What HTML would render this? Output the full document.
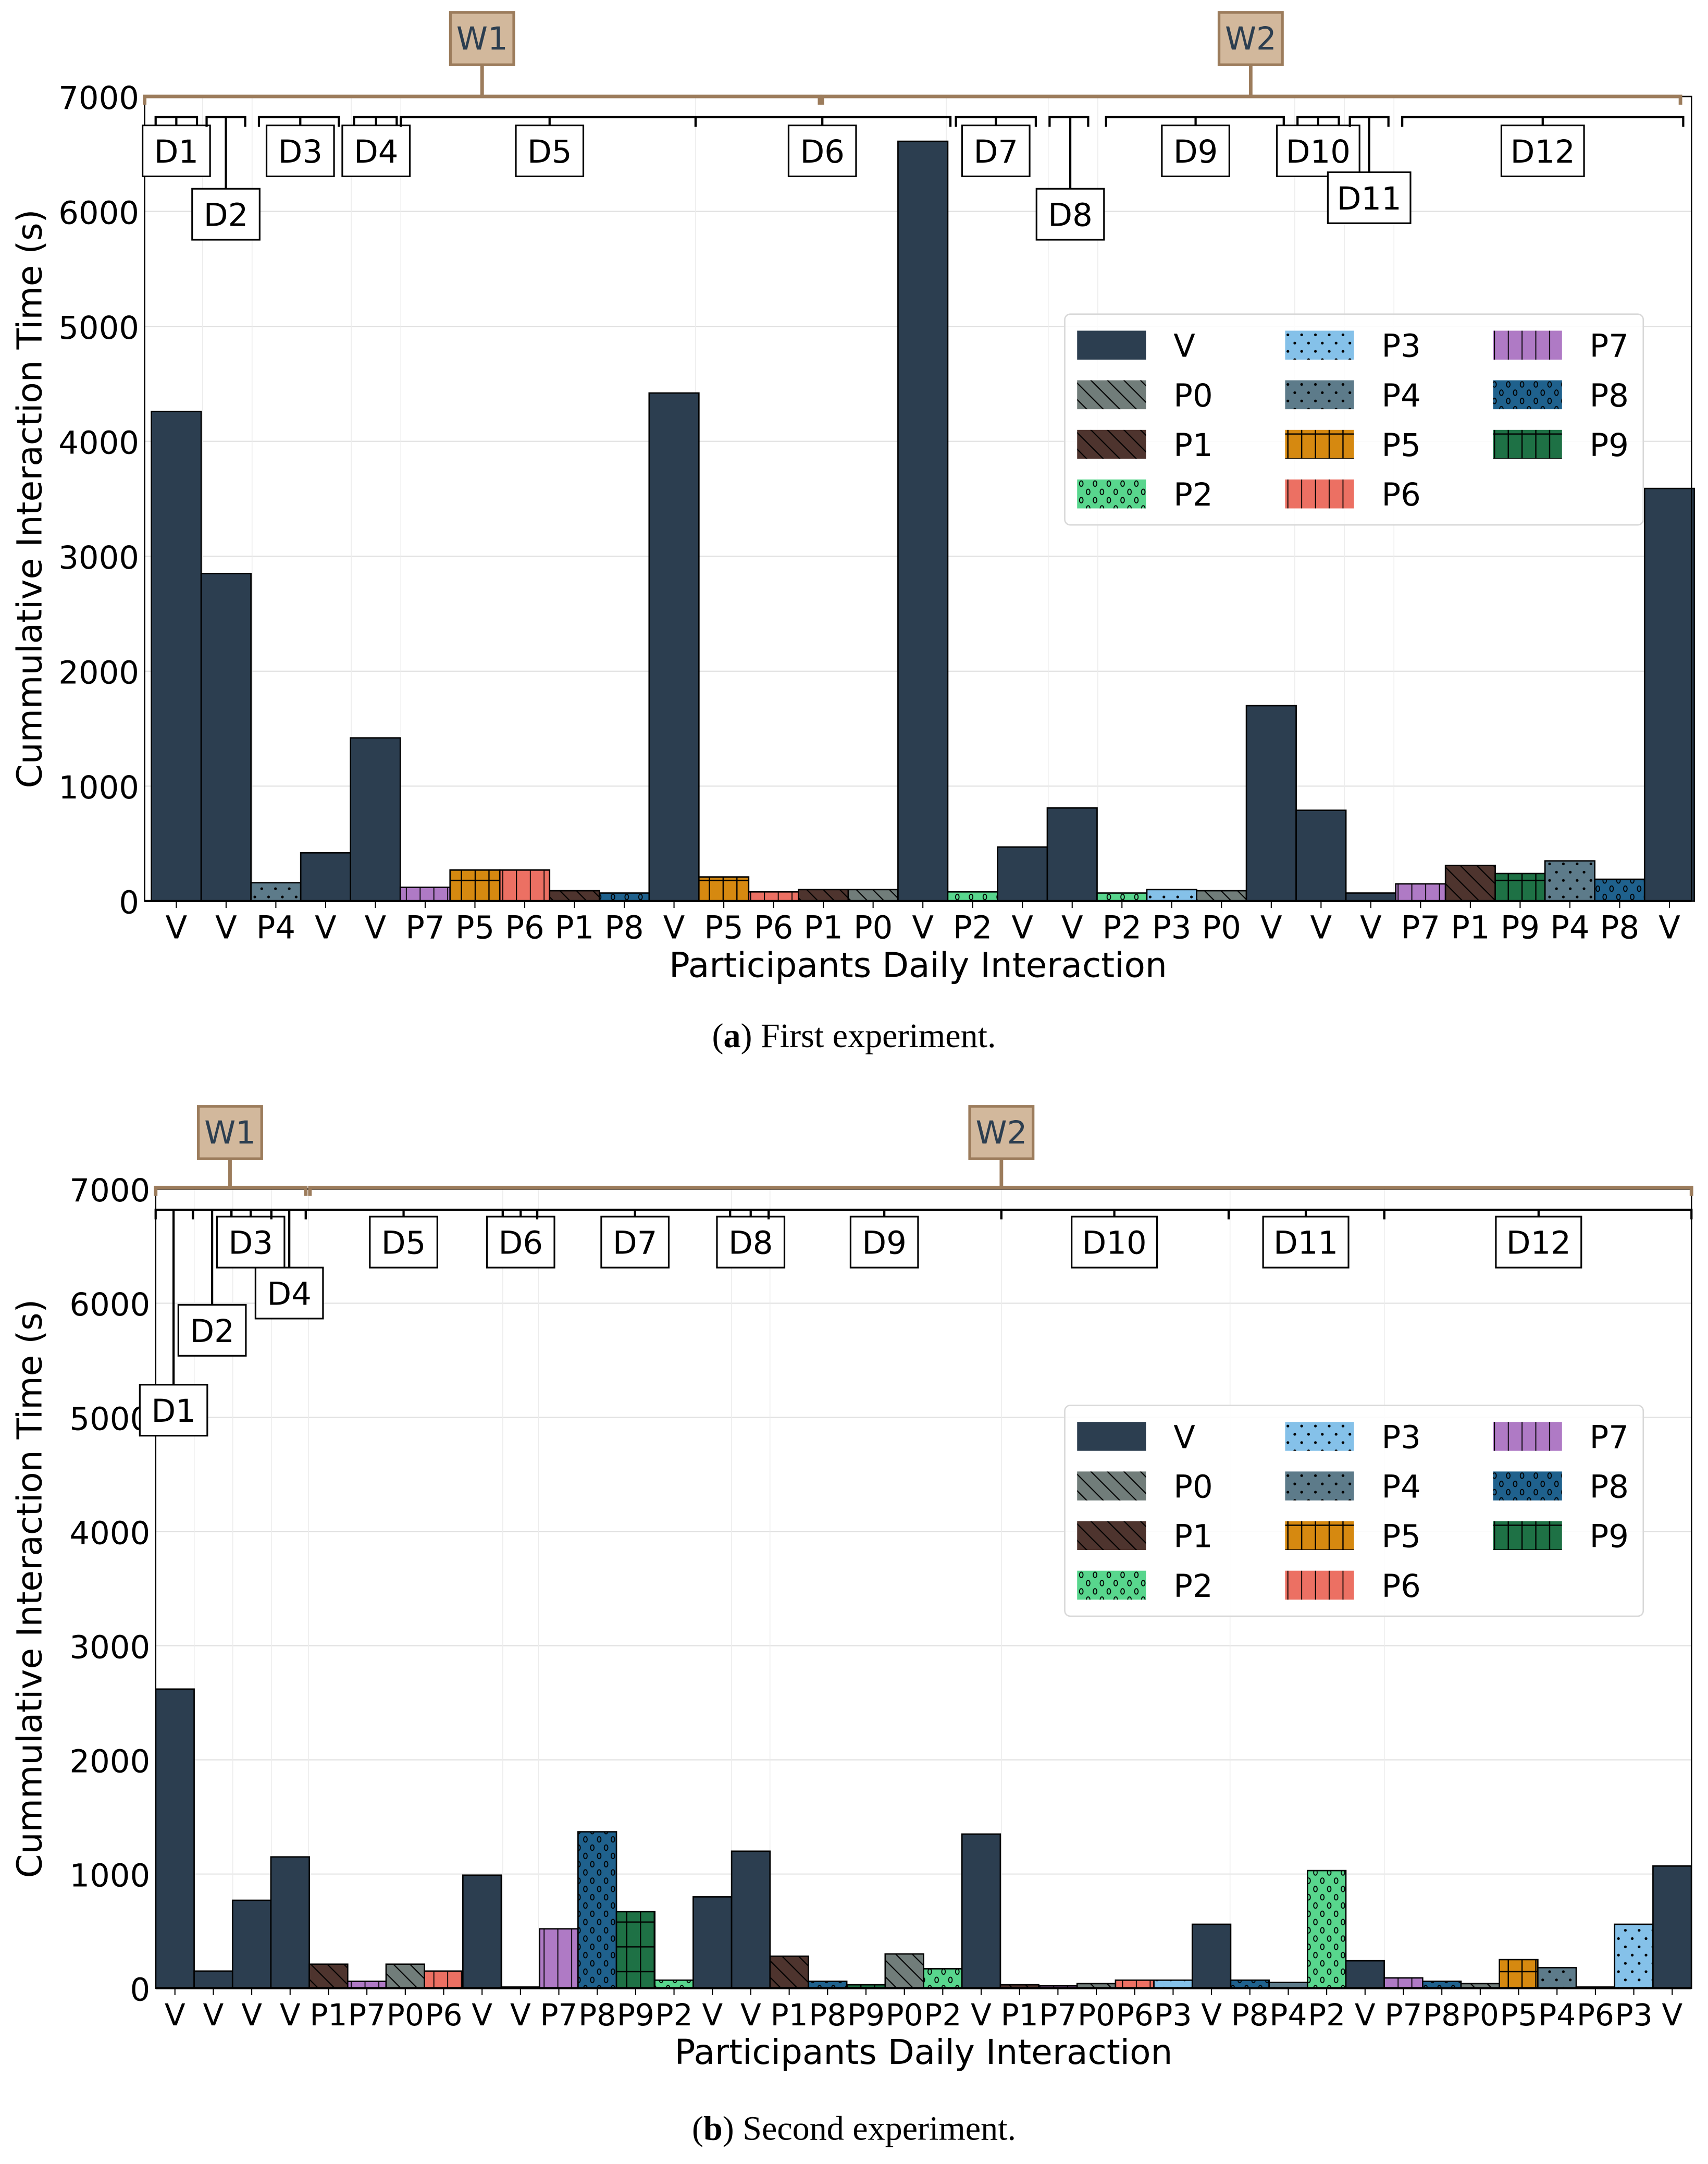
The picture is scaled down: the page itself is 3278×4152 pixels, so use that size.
<!DOCTYPE html>
<html><head><meta charset="utf-8"><style>
html,body{margin:0;padding:0;background:#fff;}
svg{display:block;font-family:"DejaVu Sans","Liberation Sans",sans-serif;}
</style></head><body>
<svg id="fig" width="3278" height="4152" viewBox="0 0 1240 1570.6" xmlns="http://www.w3.org/2000/svg">
<defs>
<pattern id="h-P0" patternUnits="userSpaceOnUse" width="12" height="12"><rect width="12" height="12" fill="#717d7a"/><path d="M0,0 L12,12 M-6,6 L6,18 M6,-6 L18,6" stroke="#000" stroke-width="0.8"/></pattern>
<pattern id="h-P1" patternUnits="userSpaceOnUse" width="12" height="12"><rect width="12" height="12" fill="#4e342e"/><path d="M0,0 L12,12 M-6,6 L6,18 M6,-6 L18,6" stroke="#000" stroke-width="0.8"/></pattern>
<pattern id="h-P2" patternUnits="userSpaceOnUse" width="10" height="12"><rect width="10" height="12" fill="#58d68d"/><ellipse cx="5" cy="3" rx="1.3" ry="2" fill="none" stroke="#000" stroke-width="0.7"/><ellipse cx="0" cy="9" rx="1.3" ry="2" fill="none" stroke="#000" stroke-width="0.7"/><ellipse cx="10" cy="9" rx="1.3" ry="2" fill="none" stroke="#000" stroke-width="0.7"/></pattern>
<pattern id="h-P3" patternUnits="userSpaceOnUse" width="10" height="12"><rect width="10" height="12" fill="#85c1e9"/><circle cx="5" cy="3" r="1" fill="#000"/><circle cx="0" cy="9" r="1" fill="#000"/><circle cx="10" cy="9" r="1" fill="#000"/></pattern>
<pattern id="h-P4" patternUnits="userSpaceOnUse" width="10" height="12"><rect width="10" height="12" fill="#5d7b8a"/><circle cx="5" cy="3" r="1" fill="#000"/><circle cx="0" cy="9" r="1" fill="#000"/><circle cx="10" cy="9" r="1" fill="#000"/></pattern>
<pattern id="h-P5" patternUnits="userSpaceOnUse" width="10" height="18"><rect width="10" height="18" fill="#d68910"/><path d="M5,0 V18 M0,9 H10" stroke="#000" stroke-width="0.9"/></pattern>
<pattern id="h-P6" patternUnits="userSpaceOnUse" width="10" height="10"><rect width="10" height="10" fill="#ec7063"/><path d="M5,0 V10" stroke="#000" stroke-width="0.7"/></pattern>
<pattern id="h-P7" patternUnits="userSpaceOnUse" width="10" height="10"><rect width="10" height="10" fill="#af7ac5"/><path d="M5,0 V10" stroke="#000" stroke-width="0.7"/></pattern>
<pattern id="h-P8" patternUnits="userSpaceOnUse" width="10" height="12"><rect width="10" height="12" fill="#1f618d"/><ellipse cx="5" cy="3" rx="1.3" ry="2" fill="none" stroke="#000" stroke-width="0.7"/><ellipse cx="0" cy="9" rx="1.3" ry="2" fill="none" stroke="#000" stroke-width="0.7"/><ellipse cx="10" cy="9" rx="1.3" ry="2" fill="none" stroke="#000" stroke-width="0.7"/></pattern>
<pattern id="h-P9" patternUnits="userSpaceOnUse" width="10" height="18"><rect width="10" height="18" fill="#1e7145"/><path d="M5,0 V18 M0,9 H10" stroke="#000" stroke-width="0.9"/></pattern>
</defs>
</svg>
<script>
// ---- Data: first experiment ----
const catsA = ["V","V","P4","V","V","P7","P5","P6","P1","P8","V","P5","P6","P1","P0","V","P2","V","V","P2","P3","P0","V","V","V","P7","P1","P9","P4","P8","V"];
const valsA = [4260,2850,160,420,1420,120,270,270,90,70,4420,210,80,100,100,6610,80,470,810,70,100,90,1700,790,70,150,310,240,350,190,3590];
// ---- Data: second experiment ----
const catsB = ["V","V","V","V","P1","P7","P0","P6","V","V","P7","P8","P9","P2","V","V","P1","P8","P9","P0","P2","V","P1","P7","P0","P6","P3","V","P8","P4","P2","V","P7","P8","P0","P5","P4","P6","P3","V"];
const valsB = [2620,150,770,1150,210,60,210,150,990,10,520,1370,670,70,800,1200,280,60,30,300,170,1350,30,20,40,70,70,560,70,50,1030,240,90,60,40,250,180,10,560,1070];
const yTicks = [0,1000,2000,3000,4000,5000,6000,7000];
const legendKeys = ["V","P0","P1","P2","P3","P4","P5","P6","P7","P8","P9"];

const NS="http://www.w3.org/2000/svg";
const svg=document.getElementById('fig');
function mk(tag,attrs,parent,text){const e=document.createElementNS(NS,tag);for(const k in attrs)e.setAttribute(k,attrs[k]);if(text!==undefined)e.textContent=text;(parent||svg).appendChild(e);return e;}
function fillFor(c){return c==="V"?"#2c3e50":"url(#h-"+c+")";}

function drawChart(cfg){
  const g=mk('g',{});
  
  
  const {x0,x1,yTop,yBot,firstC,lastC,cats,vals}=cfg;
  const n=cats.length, step=(lastC-firstC)/(n-1);
  const yS=v=>yBot-(v/7000)*(yBot-yTop);
  const xC=i=>firstC+i*step;
  // grid
  yTicks.forEach(t=>{const l=mk('line',{x1:x0,x2:x1,y1:yS(t),y2:yS(t),stroke:'#e0e0e0','stroke-width':0.8},g);
    });
  cfg.vgrid.forEach(x=>{const l=mk('line',{x1:x,x2:x,y1:yTop,y2:yBot,stroke:'#ececec','stroke-width':0.6},g);
    });
  // bars
  cats.forEach((c,i)=>{const y=yS(vals[i]);
    const r=mk('rect',{x:xC(i)-step/2,y:y,width:step,height:yBot-y,fill:fillFor(c),stroke:'#000','stroke-width':1},g);
    
    
    const tk=mk('line',{x1:xC(i),x2:xC(i),y1:yBot,y2:yBot+5,stroke:'#000','stroke-width':0.8},g);
    
    const t=mk('text',{x:xC(i),y:yBot+27,'text-anchor':'middle','font-size':cfg.xfs,fill:'#000'},g,c);
    
  });
  // spines
  const sp=mk('rect',{x:x0,y:yTop,width:x1-x0,height:yBot-yTop,fill:'none',stroke:'#000','stroke-width':1},g);
  
  mk('line',{x1:x0,x2:x1,y1:yBot,y2:yBot,stroke:'#000','stroke-width':1.6},g);
  yTicks.forEach(t=>{const tx=mk('text',{x:x0-4,y:yS(t)+9,'text-anchor':'end','font-size':23,fill:'#000'},g,String(t));
    });
  const yl=mk('text',{x:0,y:0,transform:`translate(30,${(yTop+yBot)/2}) rotate(-90)`,'text-anchor':'middle','font-size':25,fill:'#000'},g,'Cummulative Interaction Time (s)');
  
  const xl=mk('text',{x:(x0+x1)/2,y:yBot+55,'text-anchor':'middle','font-size':25,fill:'#000'},g,'Participants Daily Interaction');
  
  // week brackets
  cfg.weeks.forEach(w=>{const b=mk('path',{d:`M${w.a},${w.y+6} V${w.y} H${w.b} V${w.y+6} M${w.c},${w.y} V${w.boxY+38}`,fill:'none',stroke:'#9c7c5c','stroke-width':2.6},g);
    
    const r=mk('rect',{x:w.c-23,y:w.boxY,width:46,height:38,fill:'#d2b89c',stroke:'#9c7c5c','stroke-width':2},g);
    
    const t=mk('text',{x:w.c,y:w.boxY+27,'text-anchor':'middle','font-size':23,fill:'#2c3e50'},g,w.label);
    });
  // day brackets
  cfg.days.forEach(d=>{const y=cfg.dayY;
    const b=mk('path',{d:`M${d.a},${y+7} V${y} H${d.b} V${y+7} M${d.c},${y} V${d.by}`,fill:'none',stroke:'#000','stroke-width':1.6},g);
    
    const w=d.w||49;
    const r=mk('rect',{x:d.c-w/2,y:d.by,width:w,height:37,fill:'#fff',stroke:'#000','stroke-width':1.2},g);
    
    const t=mk('text',{x:d.c,y:d.by+27,'text-anchor':'middle','font-size':23,fill:'#000'},g,d.label);
    });
  // legend
  const L=cfg.leg;
  const lb=mk('rect',{x:L.x,y:L.y,width:420,height:153,rx:4,fill:'#fff','fill-opacity':0.85,stroke:'#d8d8d8','stroke-width':1},g);
  
  legendKeys.forEach((k,i)=>{const col=Math.floor(i/4),row=i%4;
    const px=L.x+9+col*151, py=L.y+12+row*36;
    const r=mk('rect',{x:px,y:py,width:50,height:21,fill:fillFor(k)},g);
    
    const t=mk('text',{x:px+70,y:py+19,'font-size':23,fill:'#000'},g,k);
    });
  // caption
  const cap=mk('text',{x:620,y:cfg.capY,'text-anchor':'middle','font-size':25,'font-family':'"Liberation Serif",serif',fill:'#000'},g);
  const tb=mk('tspan',{},cap,'(');const b2=mk('tspan',{'font-weight':'bold'},cap,cfg.capL);mk('tspan',{},cap,') '+cfg.capT);
  
}

drawChart({name:'chart-first-experiment',x0:105,x1:1228,yTop:70,yBot:654,firstC:128,lastC:1212,cats:catsA,vals:valsA,xfs:23,
  vgrid:[147,183,255,291,505,687,761,797,940,976,1012],
  weeks:[{a:105,b:595,c:350,y:70,boxY:9,label:'W1'},{a:597,b:1220,c:908,y:70,boxY:9,label:'W2'}],
  dayY:85,
  days:[{a:113,b:143,c:128,by:91,label:'D1'},{a:150,b:178,c:164,by:137,label:'D2'},{a:188,b:246,c:218,by:91,label:'D3'},
    {a:257,b:288,c:273,by:91,label:'D4'},{a:291,b:505,c:399,by:91,label:'D5'},{a:505,b:690,c:597,by:91,label:'D6'},
    {a:694,b:752,c:723,by:91,label:'D7'},{a:762,b:790,c:777,by:137,label:'D8'},{a:803,b:932,c:868,by:91,label:'D9'},
    {a:942,b:972,c:957,by:91,label:'D10',w:60},{a:980,b:1008,c:994,by:125,label:'D11',w:60},{a:1018,b:1222,c:1120,by:91,label:'D12',w:60}],
  leg:{x:773,y:228},capY:760,capL:'a',capT:'First experiment.'});

drawChart({name:'chart-second-experiment',x0:113,x1:1228,yTop:863,yBot:1443,firstC:127,lastC:1214,cats:catsB,vals:valsB,xfs:22,
  vgrid:[141,169,197,224,365,391,531,559,727,893,1005],
  weeks:[{a:113,b:222,c:167,y:862,boxY:803,label:'W1'},{a:225,b:1228,c:727,y:862,boxY:803,label:'W2'}],
  dayY:878,
  days:[{a:113,b:140,c:126,by:1005,label:'D1'},{a:140,b:168,c:154,by:947,label:'D2'},{a:168,b:197,c:182,by:883,label:'D3'},
    {a:197,b:222,c:210,by:920,label:'D4'},{a:222,b:365,c:293,by:883,label:'D5'},{a:365,b:390,c:378,by:883,label:'D6'},
    {a:390,b:530,c:461,by:883,label:'D7'},{a:530,b:558,c:545,by:883,label:'D8'},{a:558,b:727,c:642,by:883,label:'D9'},
    {a:727,b:892,c:809,by:883,label:'D10',w:62},{a:892,b:1005,c:948,by:883,label:'D11',w:62},{a:1005,b:1228,c:1117,by:883,label:'D12',w:62}],
  leg:{x:773,y:1020},capY:1553,capL:'b',capT:'Second experiment.'});
</script>
</body></html>
